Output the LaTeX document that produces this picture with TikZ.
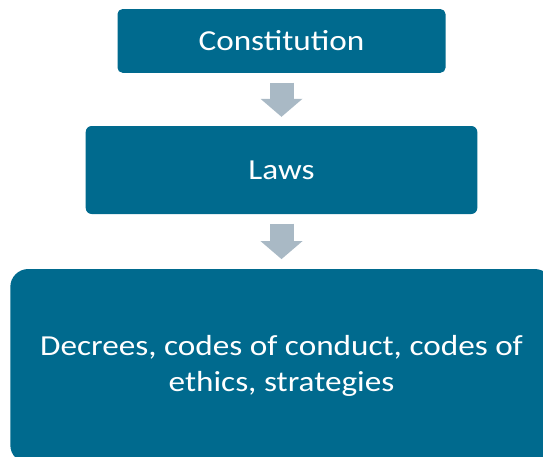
\documentclass[tikz,border=0pt]{standalone}
\usepackage{fontspec}
\setmainfont{Carlito}[FakeStretch=1.145]
\usetikzlibrary{arrows.meta}
\definecolor{boxblue}{RGB}{0,106,142}
\definecolor{arrowgray}{RGB}{169,185,197}

\begin{document}
\begin{tikzpicture}[x=1pt,y=1pt,
        box/.style={fill=boxblue, text=white, align=center, inner sep=0pt, font=\fontsize{29}{36.7}\selectfont},
        flowarrow/.style={draw=arrowgray, line width=24pt, -{Triangle[width=42pt,length=18pt,line width=0pt]}}]
        \useasboundingbox (0,0) rectangle (543,-456);
        \clip (0,0) rectangle (543,-456);
        \node[box, rounded corners=5pt, minimum width=328pt, minimum height=63.7pt] (constitution) at (281.5,-40.9) {Constitution};
        \node[box, rounded corners=6pt, minimum width=391.6pt, minimum height=88pt] (laws) at (281.5,-170) {Laws};
        \node[box, rounded corners=18pt, minimum width=542.4pt, minimum height=194pt] (decrees) at (281.5,-366) {Decrees, codes of conduct, codes of\\ ethics, strategies};

        \draw[flowarrow, shorten <=9.6pt, shorten >=9pt] (constitution) -- (laws);
        \draw[flowarrow, shorten <=9.3pt, shorten >=9.7pt] (laws) -- (decrees);
\end{tikzpicture}
\end{document}
